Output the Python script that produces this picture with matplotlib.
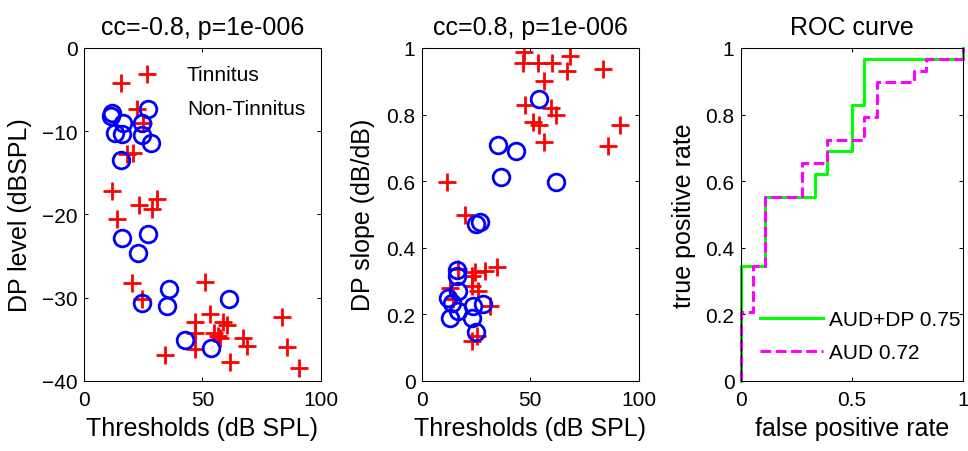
import numpy as np
import matplotlib
matplotlib.use("Agg")
import matplotlib.pyplot as plt

plt.rcParams['font.family'] = ['Liberation Sans', 'DejaVu Sans']

# panel 1: DP level vs threshold
tin_thr1 = [26.5, 15.5, 22.3, 25.0, 20.8, 18.0, 11.7, 23.4, 31.0, 28.6, 13.8, 20.1,
            24.4, 51.1, 53.2, 46.9, 58.9, 60.3, 55.0, 56.5, 57.5, 46.9, 46.9, 34.2,
            61.7, 67.0, 68.7, 83.5, 85.6, 91.0]
tin_dp1 = [-3.1, -4.2, -7.3, -9.0, -12.6, -12.8, -17.2, -18.9, -18.2, -19.4, -20.6, -28.2,
           -30.2, -28.1, -32.0, -33.0, -32.9, -33.3, -34.3, -34.6, -34.9, -34.3, -36.2, -36.9,
           -37.7, -34.9, -35.8, -32.4, -35.9, -38.5]
non_thr1 = [12.0, 11.4, 27.2, 16.6, 24.4, 13.1, 15.9, 24.4, 28.3, 15.6, 15.9, 26.9,
            22.9, 36.0, 35.2, 24.4, 61.3, 42.7, 53.7]
non_dp1 = [-7.8, -8.2, -7.3, -9.0, -9.0, -10.2, -10.3, -10.5, -11.4, -13.5, -22.9, -22.4,
           -24.6, -29.0, -31.0, -30.6, -30.2, -35.1, -36.1]

# panel 2: DP slope vs threshold
tin_thr2 = [47.2, 46.7, 53.6, 60.0, 68.1, 67.1, 83.5, 56.2, 47.5, 59.7, 62.0, 51.3,
            54.0, 56.2, 91.1, 85.8, 11.5, 19.9, 34.5, 29.1, 24.5, 23.0, 16.8, 13.0,
            26.0, 23.0, 31.4, 23.0, 25.3, 14.5]
tin_sl2 = [0.987, 0.955, 0.955, 0.955, 0.977, 0.930, 0.937, 0.900, 0.830, 0.820, 0.800, 0.777,
           0.769, 0.716, 0.770, 0.704, 0.598, 0.499, 0.341, 0.331, 0.326, 0.314, 0.336, 0.280,
           0.270, 0.285, 0.225, 0.120, 0.135, 0.245]
non_thr2 = [54.1, 34.9, 43.2, 36.4, 61.7, 25.0, 26.8, 16.1, 16.1, 16.8, 12.3, 13.8,
            16.8, 13.0, 23.0, 23.7, 28.3, 25.0]
non_sl2 = [0.847, 0.708, 0.691, 0.611, 0.596, 0.471, 0.478, 0.334, 0.316, 0.269, 0.250, 0.235,
           0.210, 0.187, 0.187, 0.225, 0.230, 0.145]

# panel 3: ROC points (18 non-tinnitus, 29 tinnitus)
n_neg, n_pos = 18, 29
fp_both = [0, 0, 2, 2, 6, 6, 7, 7, 9, 9, 10, 10, 18, 18]
tp_both = [0, 10, 10, 16, 16, 18, 18, 20, 20, 24, 24, 28, 28, 29]
fp_aud = [0, 0, 1, 1, 2, 2, 5, 5, 7, 7, 10, 10, 11, 11, 14, 14, 15, 15, 18, 18]
tp_aud = [0, 6, 6, 10, 10, 16, 16, 19, 19, 21, 21, 23, 23, 26, 26, 27, 27, 28, 28, 29]

fig = plt.figure(figsize=(9.68, 4.52), dpi=100)
ax1 = fig.add_axes([0.0868, 0.1555, 0.2445, 0.7361])
ax2 = fig.add_axes([0.4356, 0.1555, 0.2245, 0.7361])
ax3 = fig.add_axes([0.7652, 0.1555, 0.2297, 0.7361])

def style(ax):
    ax.tick_params(direction='in', top=True, right=True, length=3, width=0.75,
                   labelsize=15)
    ax.tick_params(axis='x', pad=7)
    ax.tick_params(axis='y', pad=4.5)
    for s in ax.spines.values():
        s.set_linewidth(0.75)

ax1.plot(tin_thr1, tin_dp1, '+', color='red', ms=13, mew=2)
ax1.plot(non_thr1, non_dp1, 'o', color='blue', mfc='none', ms=12, mew=2)
ax1.set_xlim(0, 100)
ax1.set_ylim(-40, 0)
ax1.set_xticks([0, 50, 100])
ax1.set_yticks([-40, -30, -20, -10, 0])
ax1.set_xlabel('Thresholds (dB SPL)', fontsize=18, labelpad=5)
ax1.set_ylabel('DP level (dBSPL)', fontsize=18, labelpad=7)
ax1.set_title('cc=-0.8, p=1e-006', fontsize=18, pad=10)
ax1.text(0.435, 0.919, 'Tinnitus', transform=ax1.transAxes, fontsize=15, va='center')
ax1.text(0.435, 0.817, 'Non-Tinnitus', transform=ax1.transAxes, fontsize=15, va='center')
style(ax1)

ax2.plot(tin_thr2, tin_sl2, '+', color='red', ms=13, mew=2)
ax2.plot(non_thr2, non_sl2, 'o', color='blue', mfc='none', ms=12, mew=2)
ax2.set_xlim(0, 100)
ax2.set_ylim(0, 1)
ax2.set_xticks([0, 50, 100])
ax2.set_yticks([0, 0.2, 0.4, 0.6, 0.8, 1])
ax2.set_yticklabels(['0', '0.2', '0.4', '0.6', '0.8', '1'])
ax2.set_xlabel('Thresholds (dB SPL)', fontsize=18, labelpad=5)
ax2.set_ylabel('DP slope (dB/dB)', fontsize=18, labelpad=8)
ax2.set_title('cc=0.8, p=1e-006', fontsize=18, pad=10)
style(ax2)

ax3.plot(np.array(fp_both) / n_neg, np.array(tp_both) / n_pos, '-', color='#00ff00',
         lw=2.2, label='AUD+DP 0.75', clip_on=False)
ax3.plot(np.array(fp_aud) / n_neg, np.array(tp_aud) / n_pos, '--', color='magenta',
         lw=2.2, dashes=(3.5, 1.5), label='AUD 0.72', clip_on=False)
ax3.set_xlim(0, 1)
ax3.set_ylim(0, 1)
ax3.set_xticks([0, 0.5, 1])
ax3.set_xticklabels(['0', '0.5', '1'])
ax3.set_yticks([0, 0.2, 0.4, 0.6, 0.8, 1])
ax3.set_yticklabels(['0', '0.2', '0.4', '0.6', '0.8', '1'])
ax3.set_xlabel('false positive rate', fontsize=18, labelpad=5)
ax3.set_ylabel('true positive rate', fontsize=18, labelpad=7)
ax3.set_title('ROC curve', fontsize=18, pad=10)
ax3.legend(loc='lower left', bbox_to_anchor=(0.087, 0.055), frameon=False, fontsize=15,
           handlelength=3.0, handletextpad=0.3, labelspacing=0.7, borderpad=0,
           borderaxespad=0)
style(ax3)

fig.savefig('out.png', dpi=100)
